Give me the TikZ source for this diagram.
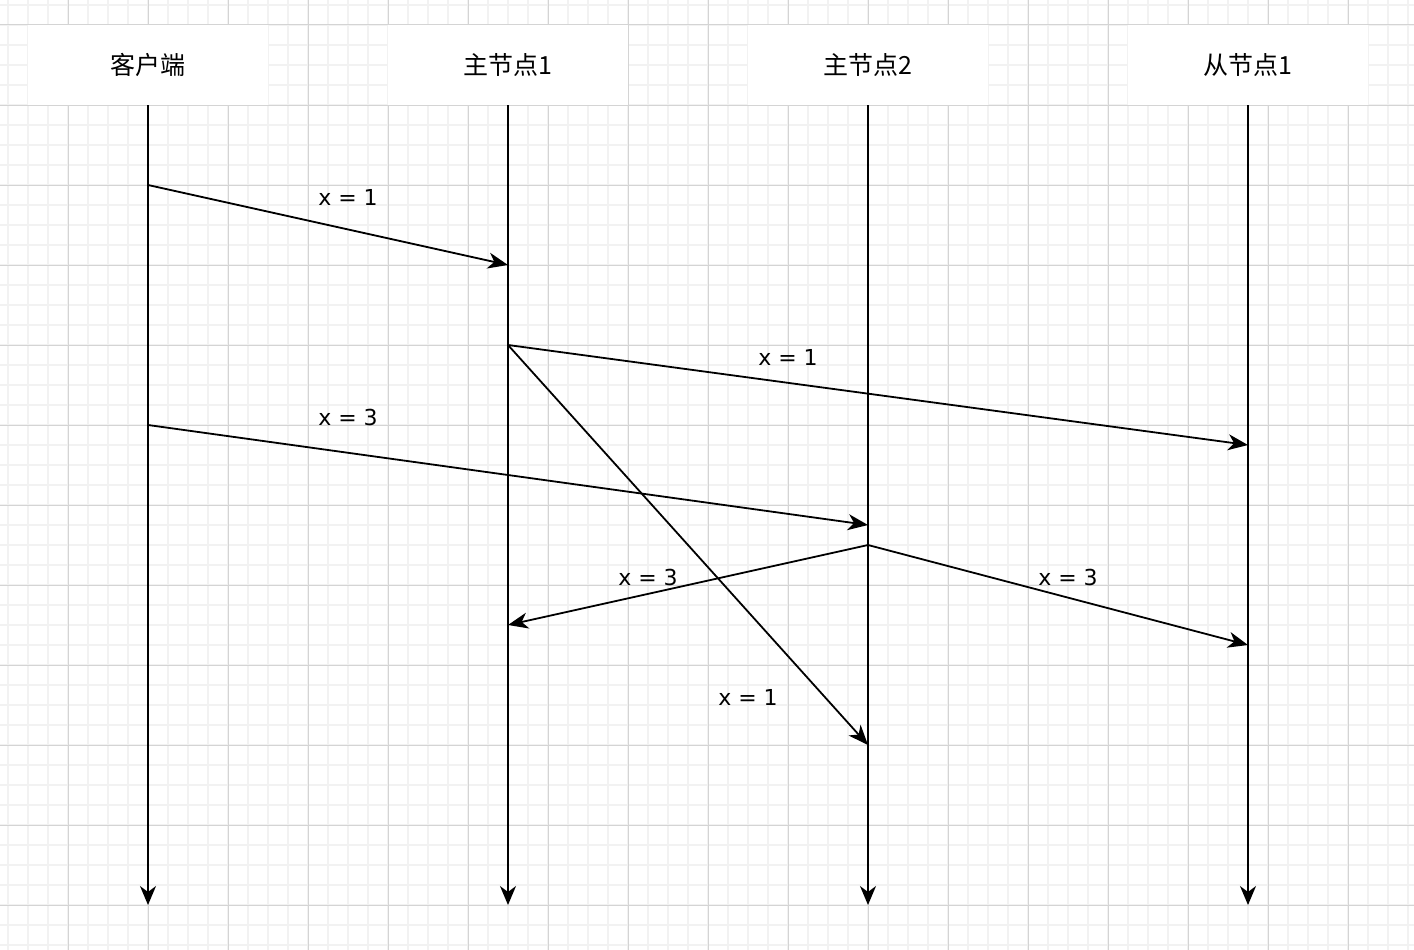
\documentclass[tikz,border=0pt]{standalone}
\usepackage{fontspec}
\setmainfont{DejaVu Sans}
\newfontfamily\cjk{Noto Sans CJK SC}
\usetikzlibrary{arrows.meta}
\definecolor{minorgrid}{HTML}{F2F2F2}
\definecolor{majorgrid}{HTML}{D4D4D4}
\tikzset{
  header/.style={fill=white, draw=none, minimum width=240pt, minimum height=80pt, inner sep=0pt,
    font=\cjk\fontsize{25}{30}\selectfont},
  lifeline/.style={line width=2pt, -{Stealth[length=19pt,width=16pt,inset=6pt]}},
  msg/.style={line width=1.8pt, -{Stealth[length=20pt,width=16pt,inset=6pt]}},
  msglabel/.style={font=\fontsize{22}{26}\selectfont, inner sep=1pt},
}
\begin{document}
\begin{tikzpicture}[x=1pt,y=-1pt]
\useasboundingbox (0,0) rectangle (1414,950);
\fill[white] (0,0) rectangle (1414,950);
% minor grid
\foreach \gx in {8,28,...,1408} \draw[minorgrid, line width=1.2pt] (\gx,0) -- (\gx,950);
\foreach \gy in {5,25,...,945} \draw[minorgrid, line width=1.2pt] (0,\gy) -- (1414,\gy);
% major grid
\foreach \gx in {68,148,...,1388} \draw[majorgrid, line width=1pt] (\gx,0) -- (\gx,950);
\foreach \gy in {25,105,...,945} \draw[majorgrid, line width=1pt] (0,\gy) -- (1414,\gy);

% headers
\node[header] (c)  at (148,65)  {客户端};
\node[header] (m1) at (508,65)  {主节点1};
\node[header] (m2) at (868,65)  {主节点2};
\node[header] (s1) at (1248,65) {从节点1};

% lifeline ends
\coordinate (cEnd)  at (148,905);
\coordinate (m1End) at (508,905);
\coordinate (m2End) at (868,905);
\coordinate (s1End) at (1248,905);
\draw[lifeline] (c.south) -- (cEnd);
\draw[lifeline] (m1.south) -- (m1End);
\draw[lifeline] (m2.south) -- (m2End);
\draw[lifeline] (s1.south) -- (s1End);

% message points
\coordinate (c1)  at (148,185);
\coordinate (m1a) at (508,265);
\coordinate (m1b) at (508,345);
\coordinate (s1a) at (1248,445);
\coordinate (m2c) at (868,745);
\coordinate (c2)  at (148,425);
\coordinate (m2a) at (868,525);
\coordinate (m2b) at (868,545);
\coordinate (m1c) at (508,625);
\coordinate (s1b) at (1248,645);

\draw[msg] (c1) -- (m1a);
\draw[msg] (m1b) -- (s1a);
\draw[msg] (m1b) -- (m2c);
\draw[msg] (c2) -- (m2a);
\draw[msg] (m2b) -- (m1c);
\draw[msg] (m2b) -- (s1b);

% labels
\node[msglabel] (l1) at (348,197) {x = 1};
\node[msglabel] (l2) at (788,357) {x = 1};
\node[msglabel] (l3) at (748,697) {x = 1};
\node[msglabel] (l4) at (348,417) {x = 3};
\node[msglabel] (l5) at (648,577) {x = 3};
\node[msglabel] (l6) at (1068,577) {x = 3};
\end{tikzpicture}
\end{document}
